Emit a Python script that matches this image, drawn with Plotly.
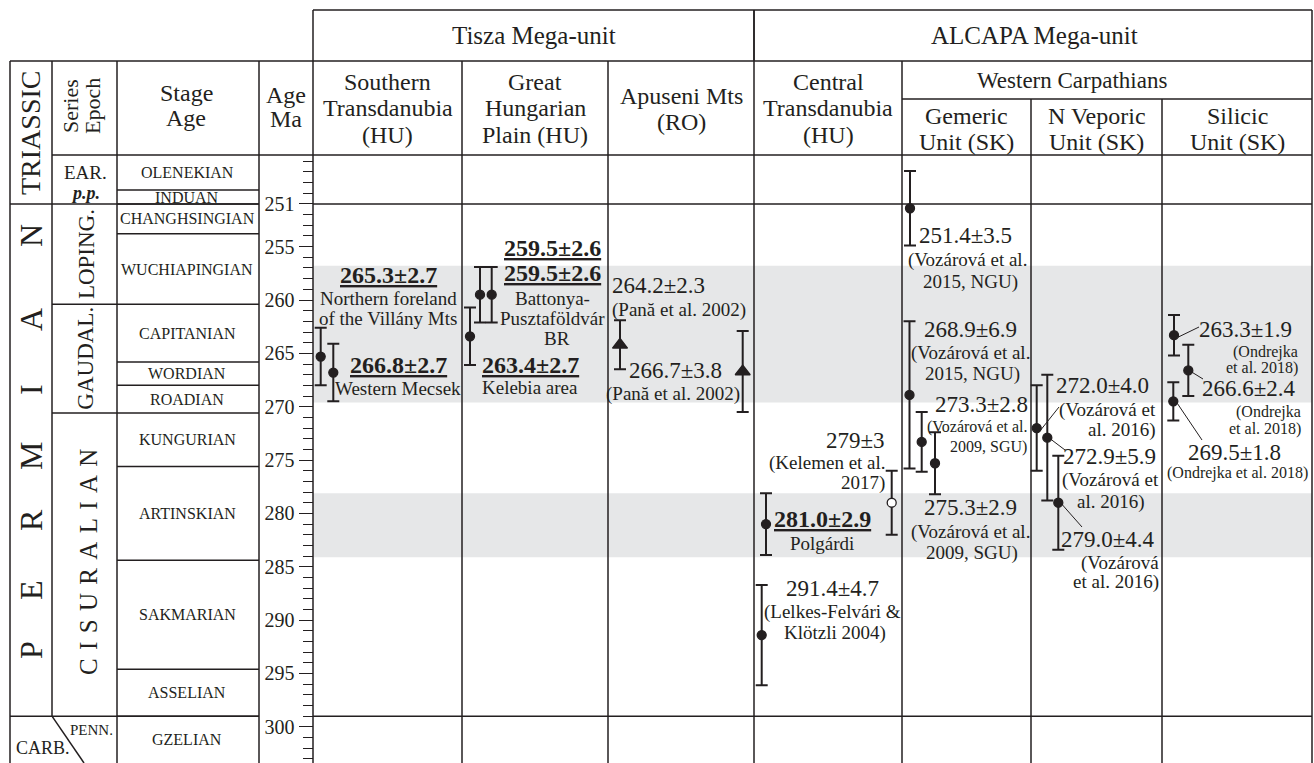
import plotly.graph_objects as go

# ---------------- data ----------------
stage_names = ["OLENEKIAN", "INDUAN", "CHANGHSINGIAN", "WUCHIAPINGIAN", "CAPITANIAN",
               "WORDIAN", "ROADIAN", "KUNGURIAN", "ARTINSKIAN", "SAKMARIAN", "ASSELIAN", "GZELIAN"]
stage_bounds = [249.7, 251.0, 253.8, 260.4, 265.8, 268.0, 270.6, 275.6, 284.4, 294.6, 299.0]
series_names = ["LOPING.", "GAUDAL.", "CISURALIAN"]
series_bounds = [251.0, 260.4, 270.6, 299.0]
age_major = [251, 255, 260, 265, 270, 275, 280, 285, 290, 295, 300]
age_minor = list(range(247, 304))
band_top = [256.8, 278.1]
band_bot = [269.6, 284.1]

# Tisza Mega-unit
st_age = [265.3, 266.8]          # Southern Transdanubia
st_err = [2.7, 2.7]
ghp_age = [263.4, 259.5, 259.5]  # Great Hungarian Plain
ghp_err = [2.7, 2.6, 2.6]
ap_age = [264.2, 266.7]          # Apuseni Mts
ap_err = [2.3, 3.8]
# ALCAPA Mega-unit
ct_age = [281.0, 291.4]          # Central Transdanubia
ct_err = [2.9, 4.7]
ct_open_age = [279.0]
ct_open_err = [3.0]
gem_age = [251.4, 268.9, 273.3, 275.3]   # Gemeric
gem_err = [3.5, 6.9, 2.8, 2.9]
nv_age = [272.0, 272.9, 279.0]           # N Veporic
nv_err = [4.0, 5.9, 4.4]
sil_age = [263.3, 266.6, 269.5]          # Silicic
sil_err = [1.9, 2.4, 1.8]

# ---------------- layout helpers ----------------
W, H = 1314, 763
K = 10.67  # px per Ma


def A(py):
    return 260 + (py - 300) / K


def P(age):
    return 300 + (age - 260) * K


FONT = "Liberation Serif, Times New Roman, serif"
INK = "#231f20"
LW = 1.5

# x positions of points (layout)
st_x = [320.7, 333.3]
ghp_x = [470, 480, 491.7]
ap_x = [620, 742.7]
ct_x = [766, 761.7]
ct_open_x = [891.7]
gem_x = [910, 909.5, 921.7, 935]
nv_x = [1036.7, 1047.3, 1058.3]
sil_x = [1174, 1188.3, 1173.3]

fig = go.Figure()
shapes = []
ann = []


def line(x0, py0, x1, py1, w=LW):
    shapes.append(dict(type="line", xref="x", yref="y", x0=x0, x1=x1, y0=A(py0), y1=A(py1),
                       line=dict(color=INK, width=w)))


def T(x, py, text, size=19, xa="center", angle=0):
    ann.append(dict(x=x, y=A(py), xref="x", yref="y", text=text, showarrow=False,
                    font=dict(size=size, family=FONT, color=INK), xanchor=xa, yanchor="middle",
                    textangle=angle, borderpad=0))


def lab(a, e, nd=1):
    return f"{a:.{nd}f}±{e:.{nd}f}"


def BU(s):
    return f"<b><u>{s}</u></b>"


# grey bands
for t, b in zip(band_top, band_bot):
    shapes.append(dict(type="rect", xref="x", yref="y", x0=313, x1=1312, y0=t, y1=b,
                       fillcolor="#e6e7e8", line=dict(width=0), layer="below"))

# ---------------- table lines ----------------
XL, XS, XST, XA, XD = 10, 52, 117, 259, 313
XR = 1312
YT, YH, YB = 10, 61, 155
# horizontal
line(XD, YT, XR, YT)
line(754, YT, 754, YH)
line(XL, YH, XR, YH)
line(XS, YB, XR, YB)
line(902, 99, XR, 99)
line(XL, P(251.0), XA, P(251.0))
line(XD, P(251.0), XR, P(251.0))
line(XL, P(299.0), XA, P(299.0))
line(XD, P(299.0), XR, P(299.0))
for b in series_bounds[1:3]:
    line(XS, P(b), XST, P(b))
for b in stage_bounds:
    line(XST, P(b), XA, P(b))
# vertical
line(XL, YH, XL, H)
line(XS, YH, XS, P(299.0))
line(XS, P(299.0), 84, H)
line(XST, YH, XST, H)
line(XA, YH, XA, H)
line(XD, YT, XD, H)
line(462, YH, 462, H)
line(608, YH, 608, H)
line(754, YT, 754, H)
line(902, YH, 902, H)
line(1031, 99, 1031, H)
line(1162, 99, 1162, H)
line(XR, YT, XR, H)

# ---------------- headers ----------------
T(533.5, 35, "Tisza Mega-unit", 25)
T(1034, 35, "ALCAPA Mega-unit", 25)
HS = 24
for x, rows in [(387.5, ["Southern", "Transdanubia", "(HU)"]),
                (535, ["Great", "Hungarian", "Plain (HU)"]),
                (828, ["Central", "Transdanubia", "(HU)"])]:
    for py, s in zip([82, 108, 135], rows):
        T(x, py, s, HS)
T(681.5, 96, "Apuseni Mts", HS)
T(681.5, 122, "(RO)", HS)
T(1072, 80, "Western Carpathians", 23)
for x, s in [(966.5, "Gemeric"), (1096.5, "N Veporic"), (1237, "Silicic")]:
    T(x, 116, s, HS)
    T(x, 142, "Unit (SK)", HS)
T(186, 93, "Stage", HS)
T(186, 118, "Age", HS)
T(286, 95, "Age", HS)
T(286, 119, "Ma", HS)
T(30, 133, "TRIASSIC", 28, angle=-90)
T(70, 106, "Series", 22, angle=-90)
T(92, 106, "Epoch", 22, angle=-90)
T(85, 172, "EAR.", 19)
T(85, 193, "<b><i>p.p.</i></b>", 18)

# stage names
tops = [A(YB)] + stage_bounds
bots = stage_bounds + [A(H)]
for n, t, b in zip(stage_names, tops, bots):
    T(187, P((t + b) / 2), n, 16)
# series names
for n, t, b in zip(series_names, series_bounds[:-1], series_bounds[1:]):
    if n == "CISURALIAN":
        T(88, 562, "\u2004".join(n), 25, angle=-90)
    else:
        T(86, P((t + b) / 2), n, 23, angle=-90)
# PERMIAN letters
for ch, py in zip("PERMIAN", [650, 590, 520, 456, 390, 320, 236]):
    T(31, py, ch, 32, angle=-90)
T(43, 748, "CARB.", 18)
T(91, 730, "PENN.", 15)

# ---------------- data traces ----------------


def pts(x, y, e, symbol="circle", size=9, fill=INK):
    fig.add_trace(go.Scatter(
        x=x, y=y, mode="markers", showlegend=False, hoverinfo="skip",
        marker=dict(symbol=symbol, size=size, color=fill, line=dict(color=INK, width=1.3)),
        error_y=dict(type="data", array=e, symmetric=True, thickness=2, width=6, color=INK)))


pts(st_x, st_age, st_err)
pts(ghp_x, ghp_age, ghp_err)
pts(ap_x, ap_age, ap_err, symbol="triangle-up", size=13)
pts(ct_x, ct_age, ct_err)
pts(ct_open_x, ct_open_age, ct_open_err, fill="white")
pts(gem_x, gem_age, gem_err)
pts(nv_x, nv_age, nv_err)
pts(sil_x, sil_age, sil_err)

# ---------------- labels ----------------
BIG, SUB, SM, BOLD = 23, 19, 16, 24
# Southern Transdanubia
T(388, 275, BU(lab(st_age[0], st_err[0])), BOLD)
T(388, 298, "Northern foreland", SUB)
T(388, 318, "of the Villány Mts", SUB)
T(398, 365, BU(lab(st_age[1], st_err[1])), BOLD)
T(398, 388, "Western Mecsek", SUB)
# Great Hungarian Plain
T(552, 248, BU(lab(ghp_age[1], ghp_err[1])), BOLD)
T(552, 273, BU(lab(ghp_age[2], ghp_err[2])), BOLD)
T(552, 298, "Battonya-", SUB)
T(552, 318, "Pusztaföldvár", SUB)
T(557, 338, "BR", SUB)
T(530, 365, BU(lab(ghp_age[0], ghp_err[0])), BOLD)
T(530, 387, "Kelebia area", SUB)
# Apuseni
T(611, 285, lab(ap_age[0], ap_err[0]), BIG, xa="left")
T(611, 310, "(Pană et al. 2002)", SUB, xa="left")
T(628, 370, lab(ap_age[1], ap_err[1]), BIG, xa="left")
T(605, 394, "(Pană et al. 2002)", SUB, xa="left")
# Central Transdanubia
T(886, 440, lab(ct_open_age[0], ct_open_err[0], 0), BIG, xa="right")
T(887, 463, "(Kelemen et al.", SUB, xa="right")
T(886, 483, "2017)", SUB, xa="right")
T(822, 519, BU(lab(ct_age[0], ct_err[0])), BOLD)
T(822, 543, "Polgárdi", SUB)
T(832, 588, lab(ct_age[1], ct_err[1]), BIG)
T(832, 612, "(Lelkes-Felvári &", SUB)
T(835, 633, "Klötzli 2004)", SUB)
# Gemeric
T(918, 235, lab(gem_age[0], gem_err[0]), BIG, xa="left")
T(967, 260, "(Vozárová et al.", SUB)
T(970, 282, "2015, NGU)", SUB)
T(970, 329, lab(gem_age[1], gem_err[1]), BIG)
T(970, 353, "(Vozárová et al.", SUB)
T(972, 374, "2015, NGU)", SUB)
T(981, 404, lab(gem_age[2], gem_err[2]), BIG)
T(977, 427, "(Vozárová et al.", SM)
T(988, 447, "2009, SGU)", SM)
T(970, 507, lab(gem_age[3], gem_err[3]), BIG)
T(970, 532, "(Vozárová et al.", SUB)
T(972, 553, "2009, SGU)", SUB)
# N Veporic
T(1055, 385, lab(nv_age[0], nv_err[0]), BIG, xa="left")
T(1157, 410, "(Vozárová et", SUB, xa="right")
T(1157, 430, "al. 2016)", SUB, xa="right")
T(1062, 456, lab(nv_age[1], nv_err[1]), BIG, xa="left")
T(1160, 480, "(Vozárová et", SUB, xa="right")
T(1111, 502, "al. 2016)", SUB)
T(1060, 539, lab(nv_age[2], nv_err[2]), BIG, xa="left")
T(1160, 563, "(Vozárová", SUB, xa="right")
T(1160, 582, "et al. 2016)", SUB, xa="right")
# Silicic
T(1198, 329, lab(sil_age[0], sil_err[0]), BIG, xa="left")
T(1299, 352, "(Ondrejka", SM, xa="right")
T(1299, 368, "et al. 2018)", SM, xa="right")
T(1201, 388, lab(sil_age[1], sil_err[1]), BIG, xa="left")
T(1302, 412, "(Ondrejka", SM, xa="right")
T(1302, 429, "et al. 2018)", SM, xa="right")
T(1234, 452, lab(sil_age[2], sil_err[2]), BIG)
T(1237, 473, "(Ondrejka et al. 2018)", SM)

# leader lines (point -> label)
for (px, a), (lx, ly) in [((nv_x[0], nv_age[0]), (1059, 407)),
                          ((nv_x[1], nv_age[1]), (1065, 450)),
                          ((nv_x[2], nv_age[2]), (1082, 527)),
                          ((sil_x[0], sil_age[0]), (1199, 327)),
                          ((sil_x[1], sil_age[1]), (1203, 379)),
                          ((sil_x[2], sil_age[2]), (1202, 440))]:
    line(px + 4, P(a) + 2, lx, ly, w=1)

fig.update_layout(
    width=W, height=H, margin=dict(l=0, r=0, t=0, b=0),
    paper_bgcolor="white", plot_bgcolor="white",
    shapes=shapes, annotations=ann, showlegend=False,
    xaxis=dict(range=[0, W], visible=False, fixedrange=True),
    yaxis=dict(range=[A(H), A(0)], anchor="free", position=312.5 / W, side="left",
               showgrid=False, zeroline=False, showline=False, fixedrange=True,
               tickmode="array", tickvals=age_major, ticks="outside", ticklen=14,
               tickwidth=1.3, tickcolor=INK,
               tickfont=dict(family=FONT, size=20, color=INK),
               minor=dict(tickmode="array", tickvals=age_minor, ticks="outside",
                          ticklen=10, tickwidth=1.2, tickcolor=INK, showgrid=False)),
)

fig.write_html("out.html", config={"displayModeBar": False},
               post_script="document.body.style.margin='0';")
